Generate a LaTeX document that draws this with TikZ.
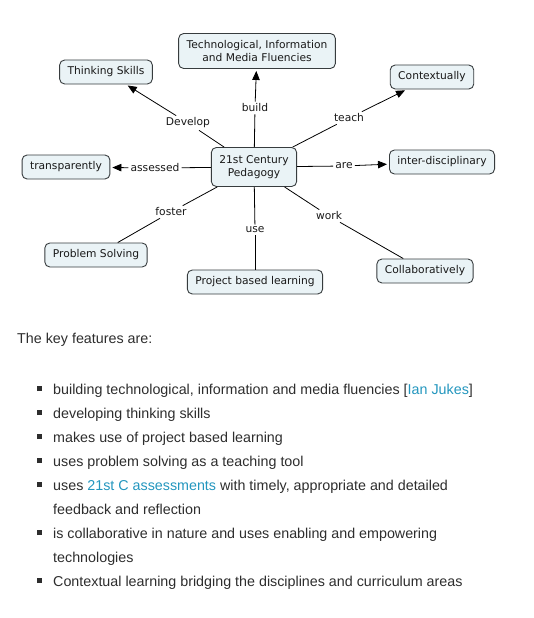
\documentclass[tikz,border=0pt]{standalone}
\usepackage{fontspec}
\setmainfont{Liberation Sans}
\newfontfamily\cmapfont{DejaVu Sans}
\usetikzlibrary{arrows.meta}
\definecolor{cmFill}{RGB}{234,243,246}
\definecolor{cmBorder}{RGB}{55,60,62}
\definecolor{cmText}{RGB}{25,25,25}
\definecolor{pgText}{RGB}{45,45,45}
\definecolor{pgLink}{RGB}{35,150,190}
\newcommand\featbullet{\leavevmode\llap{\rule[3pt]{5pt}{5pt}\hspace{11pt}}}

\begin{document}
\begin{tikzpicture}[x=1pt, y=-1pt,
  concept/.style={draw=cmBorder, line width=0.9pt, fill=cmFill, rounded corners=5pt, minimum height=24pt, inner xsep=8pt, align=center, text=cmText, font=\cmapfont\fontsize{10.7}{13.3}\selectfont},
  linkword/.style={fill=white, inner sep=2pt, text=cmText, font=\cmapfont\fontsize{10.7}{13}\selectfont},
  line/.style={line width=0.8pt},
  arrow/.style={line width=0.8pt, -{Triangle[length=9pt,width=7.5pt]}, shorten >=2pt}
]
  \useasboundingbox (0,0) rectangle (533,618);
  % concept map
  \node[concept, minimum height=39pt] (ped) at (254,167) {21st Century\\Pedagogy};
  \node[concept, minimum height=35pt] (tech) at (257,51) {Technological, Information\\and Media Fluencies};
  \node[concept] (think) at (106,72) {Thinking Skills};
  \node[concept] (context) at (432,77) {Contextually};
  \node[concept] (transp) at (66,167) {transparently};
  \node[concept] (inter) at (442,162) {inter-disciplinary};
  \node[concept] (problem) at (96,255) {Problem Solving};
  \node[concept] (project) at (255,282) {Project based learning};
  \node[concept] (collab) at (425,271) {Collaboratively};

  \node[linkword] (build) at (255,108) {build};
  \node[linkword] (develop) at (188,123) {Develop};
  \node[linkword] (teach) at (349,118) {teach};
  \node[linkword] (assessed) at (155,168) {assessed};
  \node[linkword] (are) at (344,166) {are};
  \node[linkword] (foster) at (171,212) {foster};
  \node[linkword] (use) at (255,230) {use};
  \node[linkword] (work) at (329,216) {work};

  \draw[line] (ped) -- (build);    \draw[arrow] (build) -- (tech);
  \draw[line] (ped) -- (develop);  \draw[arrow] (develop) -- (think);
  \draw[line] (ped) -- (teach);    \draw[arrow] (teach) -- (context);
  \draw[line] (ped) -- (assessed); \draw[arrow] (assessed) -- (transp);
  \draw[line] (ped) -- (are);      \draw[arrow] (are) -- (inter);
  \draw[line] (ped) -- (foster);   \draw[line] (foster) -- (problem);
  \draw[line] (ped) -- (use);      \draw[line] (use) -- (project);
  \draw[line] (ped) -- (work);     \draw[line] (work) -- (collab);

  % text below the map
  \node[anchor=west, inner sep=0pt, text=pgText, font=\fontsize{14.3}{24}\selectfont] (keyhead) at (17,340) {The key features are:};
  \node[anchor=north west, inner sep=0pt, text=pgText, align=left, font=\fontsize{14.3}{24}\selectfont] (features) at (53,383.5) {%
    \featbullet building technological, information and media fluencies [\textcolor{pgLink}{Ian Jukes}]\\
    \featbullet developing thinking skills\\
    \featbullet makes use of project based learning\\
    \featbullet uses problem solving as a teaching tool\\
    \featbullet uses \textcolor{pgLink}{21st C assessments} with timely, appropriate and detailed\\
    feedback and reflection\\
    \featbullet is collaborative in nature and uses enabling and empowering\\
    technologies\\
    \featbullet Contextual learning bridging the disciplines and curriculum areas};
\end{tikzpicture}
\end{document}
